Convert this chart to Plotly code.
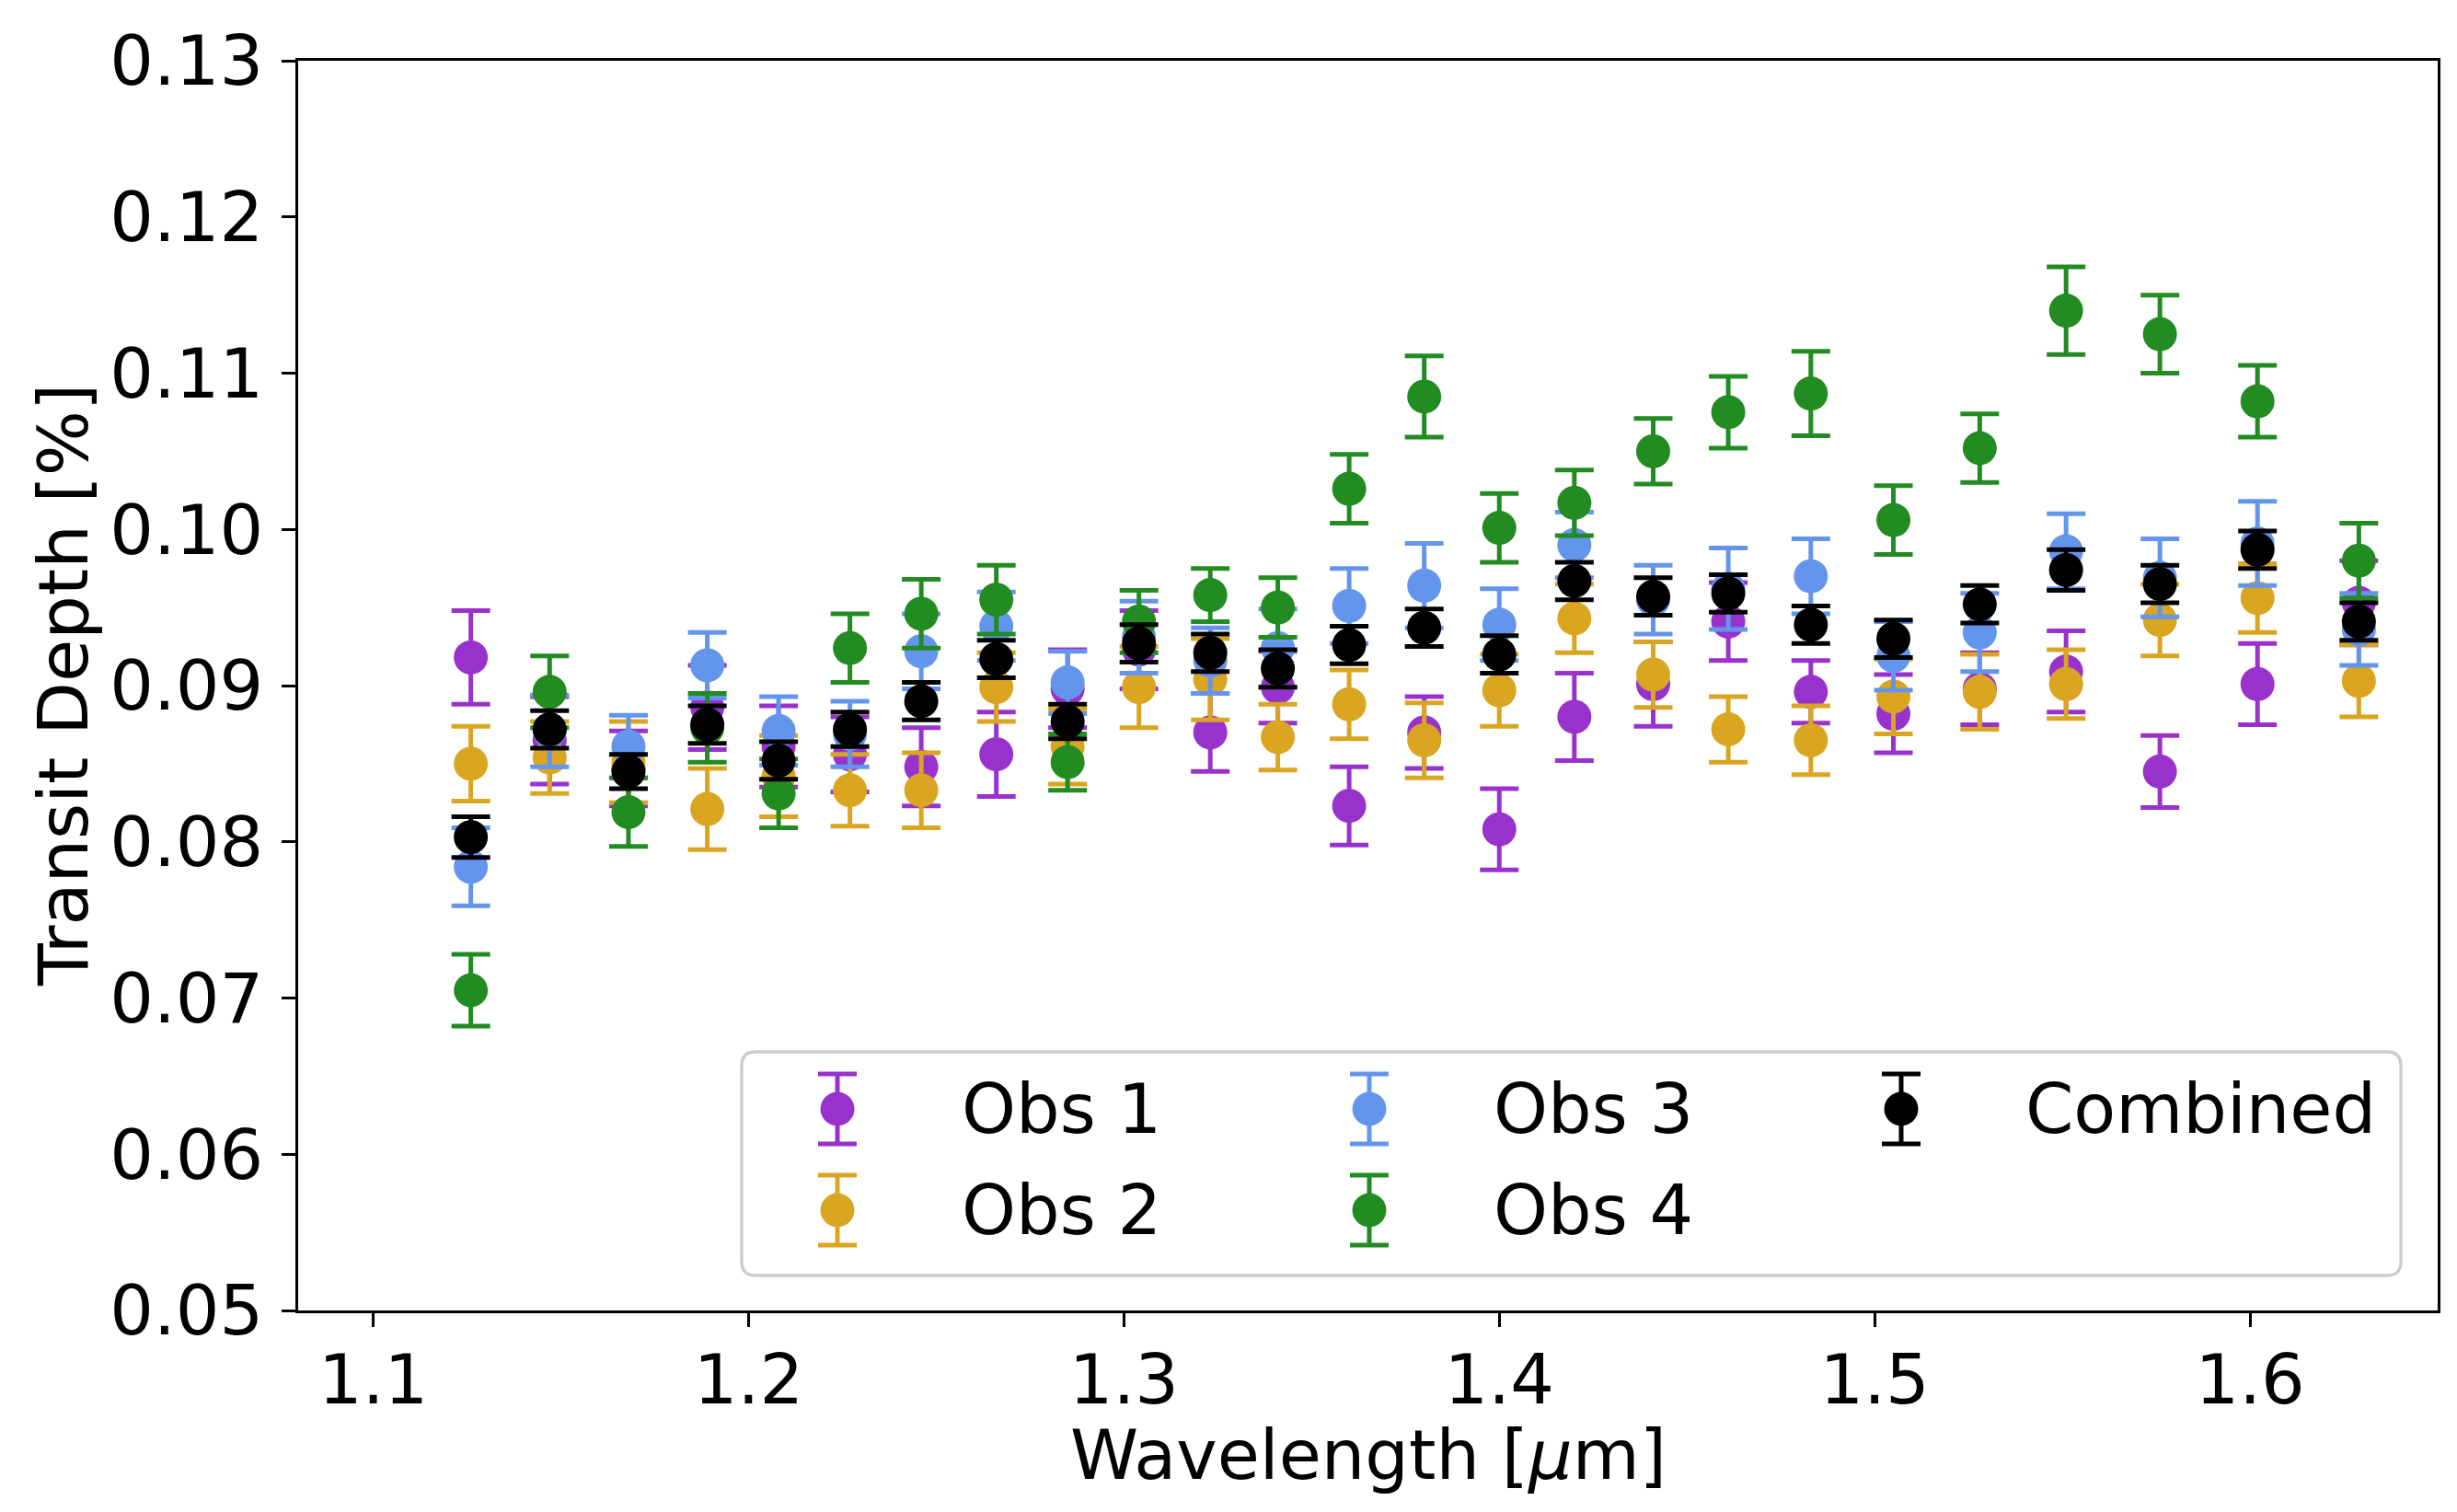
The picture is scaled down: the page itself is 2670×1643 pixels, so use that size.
import plotly.graph_objects as go

# wavelength bins [um]
wavelength = [1.126, 1.147, 1.168, 1.189, 1.208, 1.227, 1.246, 1.266, 1.285,
              1.304, 1.323, 1.341, 1.360, 1.380, 1.400, 1.420, 1.441, 1.461,
              1.483, 1.505, 1.528, 1.551, 1.576, 1.602, 1.629]

# transit depths [%] and 1-sigma errors
obs1 = [0.0918, 0.0865, 0.0847, 0.0886, 0.0861, 0.0856, 0.0848, 0.0856, 0.0898,
        0.0923, 0.0870, 0.0899, 0.0823, 0.0870, 0.0808, 0.0880, 0.0901, 0.0941,
        0.0896, 0.0882, 0.0898, 0.0909, 0.0845, 0.0901, 0.0953]
obs1_err = [0.0030, 0.0028, 0.0024, 0.0027, 0.0026, 0.0024, 0.0025, 0.0027, 0.0025,
            0.0025, 0.0025, 0.0023, 0.0025, 0.0023, 0.0026, 0.0028, 0.0027, 0.0025,
            0.0020, 0.0025, 0.0023, 0.0026, 0.0023, 0.0026, 0.0027]

obs2 = [0.0850, 0.0854, 0.0851, 0.0821, 0.0842, 0.0833, 0.0833, 0.0899, 0.0861,
        0.0899, 0.0904, 0.0867, 0.0888, 0.0865, 0.0897, 0.0943, 0.0907, 0.0872,
        0.0865, 0.0893, 0.0896, 0.0901, 0.0942, 0.0956, 0.0903]
obs2_err = [0.0024, 0.0023, 0.0026, 0.0026, 0.0026, 0.0023, 0.0024, 0.0022, 0.0024,
            0.0026, 0.0026, 0.0021, 0.0022, 0.0024, 0.0023, 0.0022, 0.0021, 0.0021,
            0.0022, 0.0024, 0.0024, 0.0022, 0.0023, 0.0022, 0.0023]

obs3 = [0.0784, 0.0871, 0.0861, 0.0913, 0.0871, 0.0869, 0.0922, 0.0938, 0.0902,
        0.0931, 0.0916, 0.0924, 0.0951, 0.0964, 0.0939, 0.0990, 0.0955, 0.0962,
        0.0970, 0.0919, 0.0934, 0.0986, 0.0969, 0.0991, 0.0936]
obs3_err = [0.0025, 0.0023, 0.0020, 0.0021, 0.0022, 0.0021, 0.0024, 0.0022, 0.0020,
            0.0023, 0.0021, 0.0025, 0.0024, 0.0027, 0.0023, 0.0021, 0.0022, 0.0026,
            0.0024, 0.0022, 0.0025, 0.0024, 0.0025, 0.0027, 0.0023]

obs4 = [0.0705, 0.0896, 0.0819, 0.0873, 0.0831, 0.0924, 0.0946, 0.0955, 0.0851,
        0.0941, 0.0958, 0.0950, 0.1026, 0.1085, 0.1001, 0.1017, 0.1050, 0.1075,
        0.1087, 0.1006, 0.1052, 0.1140, 0.1125, 0.1082, 0.0980]
obs4_err = [0.0023, 0.0023, 0.0022, 0.0022, 0.0022, 0.0022, 0.0022, 0.0022, 0.0018,
            0.0020, 0.0017, 0.0019, 0.0022, 0.0026, 0.0022, 0.0021, 0.0021, 0.0023,
            0.0027, 0.0022, 0.0022, 0.0028, 0.0025, 0.0023, 0.0024]

combined = [0.0803, 0.0872, 0.0845, 0.0875, 0.0852, 0.0872, 0.0890, 0.0917, 0.0877,
            0.0927, 0.0921, 0.0911, 0.0926, 0.0937, 0.0920, 0.0967, 0.0957, 0.0959,
            0.0939, 0.0930, 0.0952, 0.0974, 0.0965, 0.0987, 0.0941]
combined_err = [0.0013, 0.0012, 0.0011, 0.0012, 0.0012, 0.0011, 0.0012, 0.0012, 0.0011,
                0.0012, 0.0012, 0.0012, 0.0012, 0.0012, 0.0012, 0.0012, 0.0012, 0.0012,
                0.0012, 0.0012, 0.0012, 0.0013, 0.0012, 0.0012, 0.0012]

W, H = 2670, 1643
L, R, T, B = 316, 29, 58, 227          # margins in px
PW, PH = W - L - R, H - T - B
FS = 75
FONT = "DejaVu Sans"
MS = 37                                # marker diameter, px
EB = dict(thickness=5, width=21)       # error bar style
txt_font = dict(size=FS, color="black", family=FONT)

def px_x(x):  # pixel -> paper
    return (x - L) / PW

def px_y(y):
    return (H - B - y) / PH

series = [
    ("Obs 1", obs1, obs1_err, "#9932CC"),
    ("Obs 2", obs2, obs2_err, "#DAA520"),
    ("Obs 3", obs3, obs3_err, "#6495ED"),
    ("Obs 4", obs4, obs4_err, "#228B22"),
    ("Combined", combined, combined_err, "black"),
]

fig = go.Figure()
for name, y, err, col in series:
    fig.add_trace(go.Scatter(
        x=wavelength, y=y, name=name, mode="markers", showlegend=False,
        marker=dict(color=col, size=MS),
        error_y=dict(type="data", array=err, visible=True, color=col, **EB),
    ))

# legend drawn matplotlib-style (3 columns, column-major, error-bar keys)
box_l, box_t, box_r, box_b = 798, 1135, 2601, 1378   # legend frame, px
col0, col_step = 902, 578                            # key centres, px
row0, row_step = 1197, 110
key_half = 38 / row_step

x0, x1 = px_x(box_l), px_x(box_r)
y0, y1 = px_y(box_b), px_y(box_t)
rx, ry = 15 / PW, 15 / PH
path = (f"M {x0+rx},{y0} L {x1-rx},{y0} Q {x1},{y0} {x1},{y0+ry} "
        f"L {x1},{y1-ry} Q {x1},{y1} {x1-rx},{y1} L {x0+rx},{y1} "
        f"Q {x0},{y1} {x0},{y1-ry} L {x0},{y0+ry} Q {x0},{y0} {x0+rx},{y0} Z")
fig.add_shape(type="path", path=path, xref="paper", yref="paper", layer="below",
              fillcolor="rgba(255,255,255,0.8)", line=dict(color="#cccccc", width=3.3))

for i, (name, _, _, col) in enumerate(series):
    c, r = i // 2, i % 2
    fig.add_trace(go.Scatter(
        x=[c], y=[r], mode="markers", showlegend=False, hoverinfo="skip",
        xaxis="x2", yaxis="y2",
        marker=dict(color=col, size=MS),
        error_y=dict(type="constant", value=key_half, visible=True, color=col, **EB),
    ))
    fig.add_annotation(x=c, y=r, xref="x2", yref="y2", text=name, showarrow=False,
                       xanchor="left", yanchor="middle", xshift=133, font=txt_font)

fig.update_layout(
    xaxis2=dict(domain=[x0, x1], anchor="y2", visible=False, fixedrange=True,
                range=[(box_l - col0) / col_step, (box_r - col0) / col_step]),
    yaxis2=dict(domain=[y0, y1], anchor="x2", visible=False, fixedrange=True,
                range=[(box_b - row0) / row_step, (box_t - row0) / row_step]),
)

# axis titles
fig.add_annotation(text="Wavelength [<i>μ</i>m]", xref="paper", yref="paper",
                   x=0.5, y=0, xanchor="center", yanchor="top", yshift=-111,
                   showarrow=False, font=txt_font)
fig.add_annotation(text="Transit Depth [%]", xref="paper", yref="paper",
                   x=0, y=0.5, xanchor="right", yanchor="middle", xshift=107 - L,
                   textangle=-90, showarrow=False, font=txt_font)

axis_common = dict(
    showline=True, linecolor="black", linewidth=3.3, mirror=True,
    ticks="outside", ticklen=14.6, tickwidth=3.3, tickcolor="black",
    showgrid=False, zeroline=False, tickfont=txt_font,
)
fig.update_layout(
    xaxis=dict(range=[1.08, 1.65], dtick=0.1, tick0=1.1, tickformat=".1f",
               ticklabelstandoff=-7, **axis_common),
    yaxis=dict(range=[0.05, 0.13], dtick=0.01, tick0=0.05, tickformat=".2f",
               ticklabelstandoff=5, **axis_common),
    width=W, height=H,
    margin=dict(l=L, r=R, t=T, b=B, autoexpand=False),
    plot_bgcolor="rgba(0,0,0,0)", paper_bgcolor="white",
    font=dict(family=FONT, color="black", size=FS),
    showlegend=False,
)

fig.write_html("out.html")
